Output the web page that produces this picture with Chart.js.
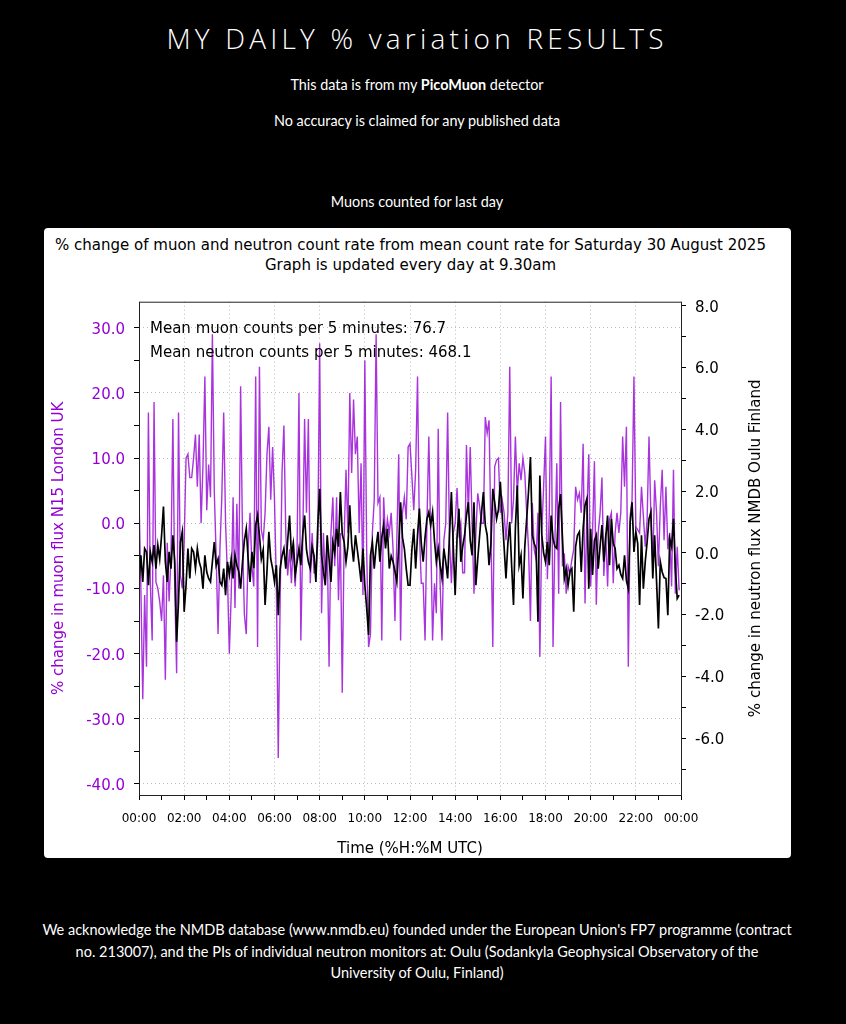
<!DOCTYPE html>
<html>
<head>
<meta charset="utf-8">
<script src="https://cdn.jsdelivr.net/npm/chart.js@4.4.1/dist/chart.umd.min.js"></script>
<style>
  html, body { margin: 0; padding: 0; background: #000; }
  body { width: 846px; height: 1024px; position: relative; overflow: hidden; font-family: Lato, sans-serif; color: #fff; }
  .c { position: absolute; left: -6px; width: 846px; text-align: center; white-space: nowrap; }
  #hdr { top: 18px; font-family: "Open Sans", sans-serif; font-weight: 300; font-size: 28px; letter-spacing: 4.2px; line-height: 40px; }
  .ln { font-size: 14.4px; line-height: 20px; }
  #box { position: absolute; left: 44px; top: 228px; width: 747px; height: 630px; background: #fff; border-radius: 4px; }
  #ttl { position: absolute; left: -7px; top: 7px; width: 747px; text-align: center; color: #000; font-family: "DejaVu Sans", sans-serif; font-size: 15px; line-height: 20px; white-space: nowrap; }
  #cv { position: absolute; left: 0; top: 0; }
  #ack { top: 919px; font-size: 14.5px; line-height: 21.5px; }
</style>
</head>
<body>
<div id="hdr" class="c">MY DAILY % variation RESULTS</div>
<div class="c ln" style="top:75px">This data is from my <b>PicoMuon</b> detector</div>
<div class="c ln" style="top:111px">No accuracy is claimed for any published data</div>
<div class="c ln" style="top:192px">Muons counted for last day</div>
<div id="box">
  <div id="ttl">% change of muon and neutron count rate from mean count rate for Saturday 30 August 2025<br>Graph is updated every day at 9.30am</div>
  <canvas id="cv" width="747" height="630"></canvas>
</div>
<div id="ack" class="c ln">We acknowledge the NMDB database (www.nmdb.eu) founded under the European Union's FP7 programme (contract<br>no. 213007), and the PIs of individual neutron monitors at: Oulu (Sodankyla Geophysical Observatory of the<br>University of Oulu, Finland)</div>
<script>
// % change per 5 minute bin, 00:00 .. 23:55 UTC (12 values per hour)
var muonChange = [
  4, -10, -27, -11, -22, 17, -9, -18, 18.6, -9, -10, -12,
  -15, -8, -24, -3, -12, -5, 16, -10, -23, 17, -8, -10,
  -3, 10, 10.6, 7, 7, 10, 13.6, 5.6, 13.6, 0, 9, 22.5,
  2, 9, 4, 29, 5, -5, -17, -4, 4, 17, 0, -8,
  -20, -11, 4, -13, 3, -10, 21, -2, -14, -17, -4, 1.6,
  -6.6, -9.7, 22.5, -19, 24, -1, -2.6, 1.6, 10.6, 14.8, 3.6, 11.7,
  3.6, -9.7, -36, -11.8, 7.7, 15, -1.5, -8, -4, -9.2, -2.6, -9.7,
  -3.6, 20, -18, -2.6, 16, 1.6, 16, -9.2, -1.5, -7.6, -7.6, -3,
  27.6, -13.8, -1.5, -9, -2.6, -22, -1.5, 4, -6.6, 4, -11.8, -1.5,
  -26, -2.6, 8.2, -1.5, 20, 7.7, 19, 10.6, 13.3, -1.5, 9.2, -11,
  25, -4.6, -19, -17, -1.5, 3.6, 29, 3.1, 4, -18, 4, -2.6,
  0.6, -1.5, 1.6, -4, -15, -2.6, 10.6, -18, 1.6, 4, 0.6, 11.7,
  12.2, 7.2, 2, 8.2, 22.5, -1.5, -9.2, -9.2, -18, 0, 13.3, -1.5,
  -18, -9.2, -13.8, 14.5, -9.2, -18, -2.6, 0, 17, -2.6, -9.2, -1.5,
  0, 5.4, -1.5, 0, -7.6, -7.6, 12, 1.6, 11.7, 0, -10.8, -1.5,
  4.6, 2.6, 0, 0, 16.3, 13.8, 15.8, -1.5, -19, 8.7, 9.7, 10,
  1.6, 3.6, 1.6, -2.6, 1.6, 24, 0, 3.6, 13.3, 4.6, 9.2, 6.6,
  10, 7.7, 1.6, -4, -15, 3.1, -4, -5.5, 1.6, -20.5, -1.5, 5.6,
  13.3, -8.6, 1.6, 22.5, -19, -2.6, 9.2, -10.8, 18.6, -6.6, -4.6, -10.8,
  -6.6, -7.6, -5.6, -4, 5.6, 3.6, 4.6, 1.6, 12.2, -12.3, 1.6, 10.6,
  -9.7, -1.5, 9.5, -12.5, -1.5, 1.6, 7, -8.1, -1.5, -9.7, 0.6, 1.6,
  -9.2, -1.5, 1.6, -1.5, 1.6, 13.3, 5.6, 14.8, -22, 1.1, 3.6, 22.5,
  -0.5, -1, -1.5, 5.6, 1.1, -3.6, 0.6, 13.3, 1.1, -6.6, 6.6, 1.6,
  -6.6, 2.6, 8.2, -2.6, 5.6, -4, -1.5, -9.7, 8.2, -10.8, -3.6, -10.3
];

var neutronChange = [
  -0.94, -0.08, -0.94, 0.14, 0.03, -1.05, 0.03, -0.29, 0.25, -0.51, 0.25, -0.2,
  0.57, 1.5, -0.29, -0.94, 0.03, -0.51, 0.57, -0.29, -2.88, -1.59, 0.35, 0.68,
  -1.91, -1.05, 0.14, -0.83, 0.14, 0.03, -0.51, 0.14, -0.29, -0.51, -1.16, -0.08,
  -0.62, -0.83, -0.94, -0.29, 0.35, -0.4, -0.2, -0.94, -1.05, -0.51, -1.37, -0.29,
  -0.72, -0.2, -0.83, -0.08, -0.4, -0.6, -1.16, -0.3, 0.4, 0.78, -0.2, -0.94,
  0.03, -0.5, 0.9, 1.21, 0.57, -0.2, 0.1, -1.69, -0.6, 0.68, -0.2, -0.51,
  -0.94, -0.4, -2.02, -0.51, -0.1, 0.14, -0.51, 0.4, 1.21, -0.08, 0.3, -0.72,
  -0.3, 0.14, -0.4, 0.6, 1.21, 0.1, -0.29, -0.51, 0.2, -0.08, -0.94, 0.9,
  2.07, -0.08, -0.6, -1.05, 0.57, -0.2, -0.94, 0.35, 0, 0.78, 0.2, 1.97,
  0.6, 0.35, -0.29, 0.2, 1.54, 0.3, -0.29, 0.57, 0.1, -0.4, -0.94, 0.14,
  -1.05, -1.8, -2.66, -0.08, 0.35, -0.51, 0.2, 0.68, -0.29, 0.5, 0.9, 0.14,
  0.78, -0.51, -0.1, -0.29, -0.6, -0.94, 0.2, 1.64, 0.5, 0.14, -0.51, -1.05,
  -1.05, 0.1, 0.78, -0.51, 0.57, 1.43, 0.3, -0.29, 0.5, 1.1, 1.32, 0.9,
  1.32, 0.4, -0.29, 0.14, -0.4, -0.83, 0.14, -0.3, -0.83, 0.6, 1.97, 0.2,
  -1.37, 0.5, 1.43, -0.29, 0.2, 0.57, 1.2, 1.64, 0.4, -0.08, 1.64, -1.05,
  -0.2, 0.57, 1.3, 1.97, 0.9, 0.57, -0.4, 0.3, 2.07, 1.64, 1.1, 1.4,
  2.3, 1.21, 0.2, -0.83, 0.3, 1.0, -0.4, -1.69, 0.8, 2.18, -0.4, -0.08,
  -1.48, 0.2, 1.1, 2.0, 3.1, 0.57, 0.3, 0.14, -2.23, 2.5, 0.6, 0,
  -0.29, 0.35, -0.4, 1.21, 0.46, 0.2, 0.14, 1.43, 1.9, 0.5, -0.83, -0.51,
  -1.05, -0.6, -0.51, -1.91, 0.2, 0.57, 0.68, -0.62, 0.8, 1.54, 1.75, -1.16,
  0.78, -0.72, 0.4, 0.57, -0.51, 0.2, 0.9, -0.29, 0.5, 1.21, -0.4, 1.1,
  0.3, 0.14, -0.51, -0.4, -0.7, -0.83, -0.08, -0.9, -1.16, 1.0, 1.64, 0.03,
  0.68, 0.3, -1.69, 0.57, -1.16, -0.29, 0.35, 1.1, 1.32, -0.83, 0.57, -0.9,
  -2.45, -0.29, -0.62, -0.8, -0.83, -2.02, 0.46, 0.2, 1.1, -0.51, -1.48, -1.37
];

var timeLabels = ['00:00', '02:00', '04:00', '06:00', '08:00', '10:00', '12:00',
                  '14:00', '16:00', '18:00', '20:00', '22:00', '00:00'];
var notes = ['Mean muon counts per 5 minutes: 76.7', 'Mean neutron counts per 5 minutes: 468.1'];

var purple = '#9400d3';
var dotted = '#bdbdbd';
var tickFont = { family: 'DejaVu Sans', size: 15 };

// x in hours after midnight, one bin every 5 minutes
function toPoints(arr) {
    return arr.map(function (v, i) { return { x: i * 5 / 60, y: v }; });
}

var framePlugin = {
    id: 'frame',
    afterDraw: function (chart) {
        var ctx = chart.ctx, a = chart.chartArea;
        ctx.save();
        ctx.strokeStyle = '#222';
        ctx.lineWidth = 1;
        ctx.strokeRect(a.left + 0.5, a.top + 0.5, a.right - a.left, a.bottom - a.top);

        ctx.fillStyle = '#000';
        ctx.font = '15px "DejaVu Sans"';
        ctx.textBaseline = 'middle';
        ctx.textAlign = 'left';
        ctx.fillText(notes[0], a.left + 11, a.top + 27);
        ctx.fillText(notes[1], a.left + 11, a.top + 51);

        // right axis title reads bottom to top like the left one
        ctx.translate(712, (a.top + a.bottom) / 2);
        ctx.rotate(-Math.PI / 2);
        ctx.textAlign = 'center';
        ctx.fillText('% change in neutron flux NMDB Oulu Finland', 0, 0);
        ctx.restore();
    }
};

var ctx = document.getElementById('cv').getContext('2d');
var chart = new Chart(ctx, {
    type: 'line',
    data: {
        datasets: [
            {
                label: 'neutron',
                data: toPoints(neutronChange),
                yAxisID: 'y2',
                borderColor: '#000',
                borderWidth: 1.7,
                pointRadius: 0,
                tension: 0,
                order: 0
            },
            {
                label: 'muon',
                data: toPoints(muonChange),
                yAxisID: 'y',
                borderColor: 'rgba(148,0,211,0.8)',
                borderWidth: 1.4,
                pointRadius: 0,
                tension: 0,
                order: 1
            }
        ]
    },
    options: {
        responsive: false,
        animation: false,
        layout: { padding: { top: 73.7, left: 0, right: 0, bottom: 0 } },
        plugins: { legend: { display: false }, tooltip: { enabled: false }, title: { display: false } },
        scales: {
            x: {
                type: 'linear',
                position: 'bottom',
                min: 0,
                max: 24,
                afterFit: function (s) { s.height = 63; },
                ticks: {
                    stepSize: 1,
                    autoSkip: false,
                    maxRotation: 0,
                    color: '#000',
                    font: { family: 'DejaVu Sans', size: 12 },
                    padding: 12,
                    callback: function (v) { return v % 2 === 0 ? timeLabels[v / 2] : ''; }
                },
                grid: {
                    color: function (c) {
                        return c.tick && c.tick.value % 2 === 0 ? dotted : 'rgba(0,0,0,0)';
                    },
                    tickColor: '#000',
                    tickLength: 5
                },
                border: { display: false, dash: [1, 3] },
                title: {
                    display: true,
                    text: 'Time (%H:%M UTC)',
                    color: '#000',
                    font: { family: 'DejaVu Sans', size: 15 },
                    padding: { top: 3, bottom: 0 }
                }
            },
            y: {
                type: 'linear',
                position: 'left',
                min: -41.69,
                max: 33.99,
                afterFit: function (s) { s.width = 95; },
                ticks: {
                    stepSize: 5,
                    includeBounds: false,
                    color: purple,
                    font: tickFont,
                    padding: 9,
                    labelOffset: 2,
                    callback: function (v) { return v % 10 === 0 ? v.toFixed(1) : ''; }
                },
                grid: {
                    color: function (c) {
                        return c.tick && c.tick.value % 10 === 0 ? dotted : 'rgba(0,0,0,0)';
                    },
                    tickColor: '#000',
                    tickLength: 5
                },
                border: { display: false, dash: [1, 3] },
                title: {
                    display: true,
                    text: '% change in muon flux N15 London UK',
                    color: purple,
                    font: { family: 'DejaVu Sans', size: 15 },
                    padding: { top: 6, bottom: 0 }
                }
            },
            y2: {
                type: 'linear',
                position: 'right',
                min: -7.84,
                max: 8.13,
                afterFit: function (s) { s.width = 110; },
                ticks: {
                    stepSize: 1,
                    includeBounds: false,
                    color: '#000',
                    font: tickFont,
                    padding: 9,
                    labelOffset: 2,
                    callback: function (v) { return v % 2 === 0 ? v.toFixed(1) : ''; }
                },
                grid: { drawOnChartArea: false, tickColor: '#000', tickLength: 5 },
                border: { display: false }
            }
        }
    },
    plugins: [framePlugin]
});
</script>
</body>
</html>
